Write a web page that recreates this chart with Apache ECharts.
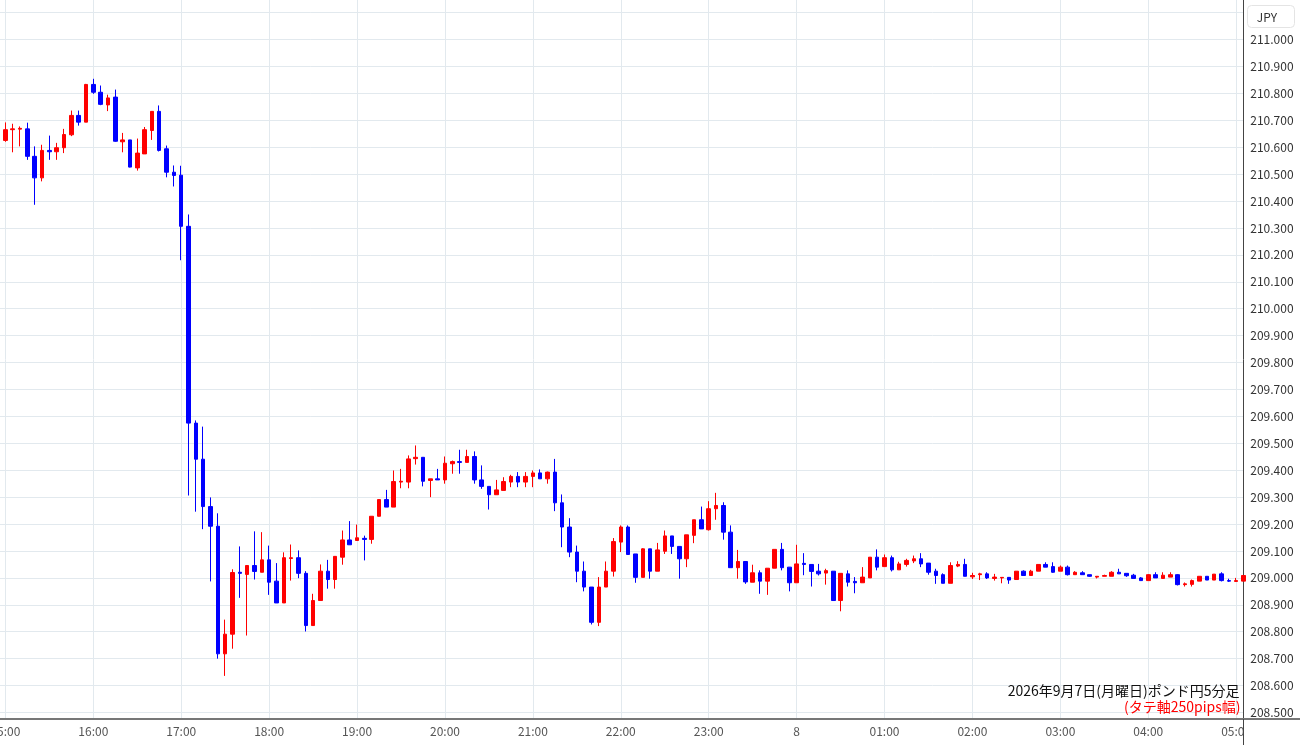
<!DOCTYPE html>
<html>
<head>
<meta charset="utf-8">
<script src="https://cdn.jsdelivr.net/npm/echarts@6/dist/echarts.min.js"></script>
<style>
html,body{margin:0;padding:0;background:#fff;}
#main{width:1300px;height:745px;}
</style>
</head>
<body>
<div id="main"></div>
<script>
// Hour tick labels (one per 12 five-minute candles, starting 15:00)
const hourLabels = ['15:00','16:00','17:00','18:00','19:00','20:00','21:00','22:00','23:00','8','01:00','02:00','03:00','04:00','05:00'];
const hourPositions = [0,12,24,36,48,60,72,84,96,108,120,132,144,156,168];

// Price tick labels
const priceLabels = [208.5,208.6,208.7,208.8,208.9,209.0,209.1,209.2,209.3,209.4,209.5,209.6,209.7,209.8,209.9,210.0,210.1,210.2,210.3,210.4,210.5,210.6,210.7,210.8,210.9,211.0];
const priceGrid = [208.5,208.6,208.7,208.8,208.9,209.0,209.1,209.2,209.3,209.4,209.5,209.6,209.7,209.8,209.9,210.0,210.1,210.2,210.3,210.4,210.5,210.6,210.7,210.8,210.9,211.0,211.1];

// 5-minute candles from 15:00
const opens = [
210.625,210.665,210.667,210.668,210.566,210.486,210.588,210.583,210.598,210.646,210.718,210.693,210.833,210.804,210.757,210.786,210.620,210.627,210.523,210.575,
210.662,210.733,210.594,210.507,210.496,210.306,209.575,209.441,209.265,209.192,208.718,208.791,209.021,209.013,209.046,209.021,209.067,208.988,208.907,209.072,
209.075,209.017,208.823,208.916,209.025,208.994,209.077,209.141,209.139,209.147,209.143,209.229,209.291,209.263,209.356,209.356,209.443,209.448,209.362,209.368,
209.364,209.424,209.432,209.429,209.451,209.364,209.340,209.309,209.325,209.356,209.377,209.356,209.377,209.390,209.368,209.393,209.279,209.189,209.096,209.025,
208.966,208.835,208.966,209.025,209.133,209.189,209.089,209.002,209.108,209.025,209.099,209.156,209.117,209.071,209.158,209.216,209.179,209.257,209.269,209.170,
209.038,209.061,208.984,209.019,208.988,209.036,209.106,209.040,208.982,209.054,209.050,209.025,209.018,209.025,208.916,209.015,208.987,208.982,209.000,209.077,
209.042,209.075,209.030,209.050,209.063,209.071,209.055,209.025,209.012,208.980,209.044,209.050,209.004,209.012,209.015,208.998,209.000,209.002,208.994,209.025,
209.009,209.025,209.050,209.042,209.025,209.040,209.012,209.019,209.012,209.003,209.006,209.006,209.021,209.017,209.010,209.000,208.990,209.012,208.998,209.003,
209.012,208.975,208.976,208.988,209.006,208.992,209.015,208.990,208.987,208.988];
const closes = [
210.665,210.668,210.670,210.566,210.486,210.588,210.583,210.598,210.647,210.718,210.693,210.833,210.804,210.759,210.783,210.622,210.627,210.526,210.578,210.665,
210.733,210.588,210.507,210.495,210.306,209.575,209.441,209.265,209.192,208.718,208.791,209.020,209.017,209.046,209.024,209.067,208.984,208.907,209.075,209.075,
209.017,208.823,208.916,209.025,208.994,209.080,209.141,209.123,209.149,209.143,209.229,209.291,209.263,209.358,209.359,209.442,209.448,209.359,209.368,209.364,
209.426,209.432,209.429,209.451,209.364,209.340,209.309,209.327,209.358,209.377,209.356,209.377,209.390,209.368,209.393,209.279,209.189,209.096,209.025,208.966,
208.835,208.966,209.025,209.135,209.189,209.087,209.002,209.108,209.025,209.104,209.156,209.117,209.071,209.160,209.216,209.182,209.257,209.269,209.170,209.038,
209.061,208.985,209.019,208.988,209.036,209.106,209.038,208.982,209.052,209.050,209.024,209.015,209.027,208.916,209.017,208.984,208.982,209.003,209.077,209.040,
209.075,209.030,209.052,209.065,209.071,209.052,209.021,209.009,208.980,209.046,209.050,209.006,209.009,209.015,209.000,209.003,209.002,208.992,209.025,209.009,
209.025,209.050,209.040,209.021,209.040,209.012,209.021,209.012,209.006,209.006,209.009,209.021,209.015,209.008,208.998,208.990,209.012,209.000,209.010,209.012,
208.975,208.978,208.990,209.006,208.992,209.014,208.990,208.988,208.990,209.009];
const lows = [
210.620,210.581,210.603,210.553,210.386,210.473,210.553,210.553,210.578,210.641,210.680,210.693,210.798,210.756,210.734,210.620,210.581,210.525,210.513,210.575,
210.627,210.584,210.488,210.454,210.180,209.306,209.246,209.181,208.987,208.700,208.636,208.737,208.926,208.786,208.994,209.021,208.937,208.907,208.907,208.990,
208.999,208.801,208.823,208.916,208.960,208.960,209.049,209.123,209.139,209.065,209.127,209.228,209.263,209.263,209.333,209.333,209.421,209.340,209.300,209.364,
209.350,209.387,209.387,209.429,209.350,209.331,209.254,209.309,209.325,209.337,209.337,209.337,209.337,209.368,209.350,209.248,209.114,209.077,208.984,208.950,
208.827,208.821,208.966,209.005,209.096,209.087,208.982,209.002,208.997,209.025,209.089,209.089,208.997,209.040,209.129,209.182,209.176,209.216,209.142,209.038,
208.997,208.978,208.984,208.941,208.937,209.036,209.028,208.950,208.982,209.010,208.968,209.009,208.975,208.916,208.876,208.968,208.943,208.982,209.000,209.028,
209.042,209.024,209.030,209.042,209.055,209.040,209.012,208.978,208.980,208.980,209.040,209.006,208.996,208.992,208.996,208.990,208.980,208.978,208.994,209.009,
209.009,209.025,209.040,209.019,209.025,209.009,209.012,209.012,209.004,208.998,209.006,209.006,209.015,209.004,208.998,208.990,208.990,209.000,208.998,209.003,
208.972,208.968,208.968,208.988,208.992,208.992,208.987,208.985,208.985,208.988];
const highs = [
210.692,210.687,210.677,210.691,210.603,210.609,210.643,210.616,210.668,210.736,210.736,210.835,210.854,210.829,210.795,210.814,210.653,210.627,210.632,210.675,
210.733,210.755,210.606,210.532,210.531,210.350,209.585,209.562,209.299,209.240,208.845,209.032,209.117,209.046,209.173,209.170,209.120,209.055,209.095,209.124,
209.102,209.025,208.941,209.050,209.067,209.080,209.176,209.211,209.198,209.157,209.229,209.291,209.327,209.399,209.405,209.455,209.492,209.448,209.368,209.405,
209.451,209.436,209.476,209.476,209.470,209.418,209.340,209.364,209.374,209.383,209.393,209.393,209.399,209.403,209.395,209.442,209.310,209.222,209.120,209.061,
208.966,209.003,209.061,209.148,209.195,209.195,209.089,209.110,209.108,209.130,209.176,209.156,209.117,209.160,209.216,209.265,209.285,209.316,209.281,209.195,
209.104,209.061,209.049,209.028,209.036,209.106,209.130,209.040,209.123,209.092,209.050,209.052,209.034,209.025,209.017,209.028,209.003,209.040,209.077,209.106,
209.087,209.083,209.060,209.071,209.083,209.092,209.055,209.034,209.017,209.058,209.062,209.071,209.019,209.019,209.021,209.015,209.002,209.003,209.025,209.028,
209.030,209.050,209.058,209.058,209.046,209.046,209.025,209.025,209.012,209.006,209.012,209.025,209.034,209.017,209.015,209.003,209.014,209.021,209.021,209.021,
209.014,208.983,208.994,209.006,209.006,209.014,209.021,208.997,209.000,209.009];

const candles = opens.map((o, i) => [i, o, closes[i], lows[i], highs[i]]);

const chart = echarts.init(document.getElementById('main'), null, {renderer: 'canvas'});
const font = '"Noto Sans CJK JP", "Noto Sans", sans-serif';
const gridColor = '#e2e9ee';

chart.setOption({
  animation: false,
  backgroundColor: '#ffffff',
  textStyle: {fontFamily: font},
  title: [
    {
      text: '2026年9月7日(月曜日)ポンド円5分足',
      right: 60.5, top: 683, padding: 0,
      textStyle: {fontSize: 14, fontWeight: 'normal', color: '#111', fontFamily: font, lineHeight: 16}
    },
    {
      text: '(タテ軸250pips幅)',
      right: 59.5, top: 699, padding: 0,
      textStyle: {fontSize: 14, fontWeight: 'normal', color: '#ff0000', fontFamily: font, lineHeight: 16}
    }
  ],
  grid: {left: 0, right: 56.7, top: 0, bottom: 26, containLabel: false, outerBoundsMode: 'none'},
  xAxis: {
    type: 'value',
    min: -0.737,
    max: 168.97,
    axisLine: {show: true, onZero: false, lineStyle: {color: '#777', width: 2}},
    axisTick: {show: false, customValues: hourPositions},
    axisLabel: {
      show: true,
      customValues: hourPositions,
      margin: 6,
      fontSize: 12,
      color: '#555',
      fontFamily: font,
      showMinLabel: true,
      showMaxLabel: true,
      formatter: v => hourLabels[Math.round(v / 12)] || ''
    },
    splitLine: {show: true, lineStyle: {color: gridColor, width: 1}}
  },
  yAxis: {
    type: 'value',
    position: 'right',
    min: 208.4759,
    max: 211.1467,
    axisLine: {show: true, onZero: false, lineStyle: {color: '#444', width: 1}},
    axisTick: {show: false, customValues: priceGrid},
    axisLabel: {
      show: true,
      customValues: priceLabels,
      margin: 7,
      fontSize: 12,
      color: '#333',
      fontFamily: font,
      formatter: v => v.toFixed(3)
    },
    splitLine: {show: true, lineStyle: {color: gridColor, width: 1}}
  },
  series: [{
    type: 'candlestick',
    data: candles,
    encode: {x: 0, y: [1, 2, 3, 4]},
    barWidth: 4,
    clip: true,
    itemStyle: {
      color: '#ff0000',
      color0: '#0000ff',
      borderColor: '#ff0000',
      borderColor0: '#0000ff',
      borderWidth: 1
    }
  }],
  graphic: [
    {type: 'rect', z: 100, shape: {x: 1244, y: 721, width: 56, height: 24}, style: {fill: '#ffffff'}},
    {type: 'line', z: 101, shape: {x1: 1243, y1: 719, x2: 1300, y2: 719}, style: {stroke: '#777', lineWidth: 2}},
    {type: 'line', z: 101, shape: {x1: 1243.5, y1: 719, x2: 1243.5, y2: 745}, style: {stroke: '#444', lineWidth: 1}},
    {type: 'rect', z: 100, shape: {x: 1247.5, y: 5.5, width: 47, height: 22, r: 4}, style: {fill: '#ffffff', stroke: '#e4e4e4', lineWidth: 1}},
    {type: 'text', z: 101, style: {text: 'JPY', x: 1267, y: 17, textAlign: 'center', textVerticalAlign: 'middle', fontSize: 12, fill: '#333', fontFamily: font}}
  ]
});
</script>
</body>
</html>
